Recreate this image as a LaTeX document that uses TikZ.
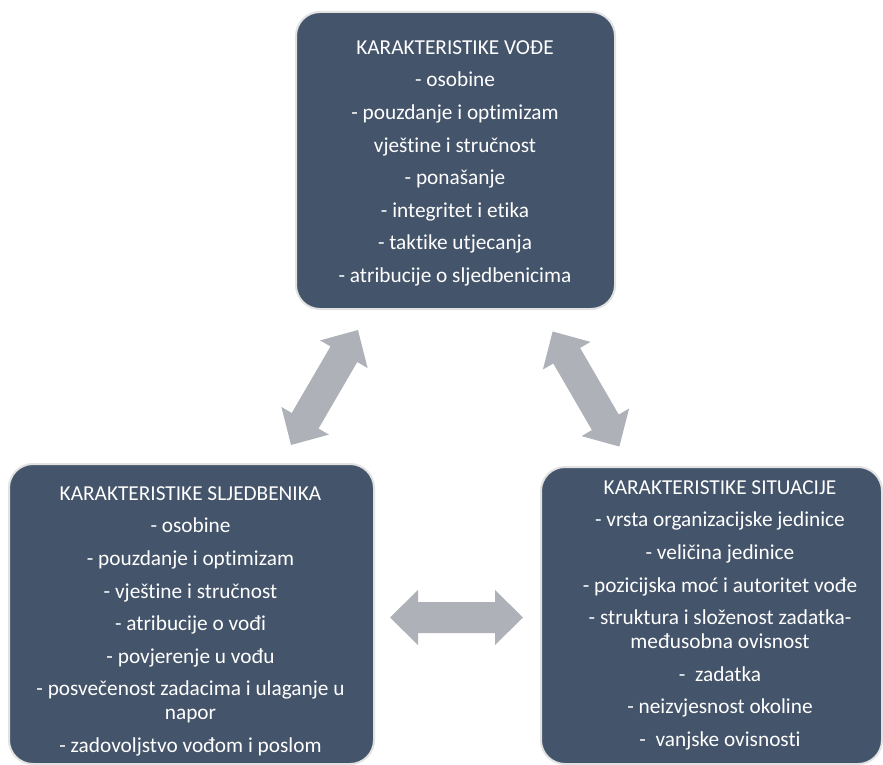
\documentclass[tikz,border=0pt]{standalone}
\usepackage{fontspec}
\setmainfont{Carlito}[Ligatures={NoCommon}]
\definecolor{boxfill}{HTML}{44546A}
\definecolor{boxedge}{HTML}{E2E2E2}
\definecolor{arrowgray}{HTML}{AEB1B8}
\tikzset{
  cbox/.style={fill=boxfill, draw=boxedge, line width=2pt, rounded corners=24pt},
  ctext/.style={text=white, align=center, inner sep=0pt, anchor=north,
    font=\fontsize{21.3}{24}\selectfont},
  dblarrow/.pic={\fill[arrowgray] (-66.5,0) -- (-38.5,27.5) -- (-38.5,15.5) -- (38.5,15.5) -- (38.5,27.5) -- (66.5,0) -- (38.5,-27.5) -- (38.5,-15.5) -- (-38.5,-15.5) -- (-38.5,-27.5) -- cycle;}
}
\begin{document}
\begin{tikzpicture}[x=1pt,y=-1pt]
\useasboundingbox (0,0) rectangle (883,765);
% boxes
\draw[cbox] (296,12) rectangle (615,309);
\draw[cbox] (9,464) rectangle (374,764);
\draw[cbox] (541,467) rectangle (882,764);
% texts
\node[ctext] (lead) at (455,40.2) {KARAKTERISTIKE VOĐE\\[8.6pt]
- osobine\\[8.6pt]
- pouzdanje i optimizam\\[8.6pt]
vještine i stručnost\\[8.6pt]
- ponašanje\\[8.6pt]
- integritet i etika\\[8.6pt]
- taktike utjecanja\\[8.6pt]
- atribucije o sljedbenicima};
\node[ctext] (foll) at (190.5,486.2) {KARAKTERISTIKE SLJEDBENIKA\\[8.6pt]
- osobine\\[8.6pt]
- pouzdanje i optimizam\\[8.6pt]
- vještine i stručnost\\[8.6pt]
- atribucije o vođi\\[8.6pt]
- povjerenje u vođu\\[8.6pt]
- posvečenost zadacima i ulaganje u\\
napor\\[8.6pt]
- zadovoljstvo vođom i poslom};
\node[ctext] (sit) at (720,480.2) {KARAKTERISTIKE SITUACIJE\\[8.6pt]
- vrsta organizacijske jedinice\\[8.6pt]
- veličina jedinice\\[8.6pt]
- pozicijska moć i autoritet vođe\\[8.6pt]
- struktura i složenost zadatka-\\
međusobna ovisnost\\[8.6pt]
-~ zadatka\\[8.6pt]
- neizvjesnost okoline\\[8.6pt]
-~ vanjske ovisnosti};
% arrows
\pic[rotate=59.8] at (324.5,387.5) {dblarrow};
\pic[rotate=-59.9] at (586,389) {dblarrow};
\pic at (456.5,617.5) {dblarrow};
\end{tikzpicture}
\end{document}
